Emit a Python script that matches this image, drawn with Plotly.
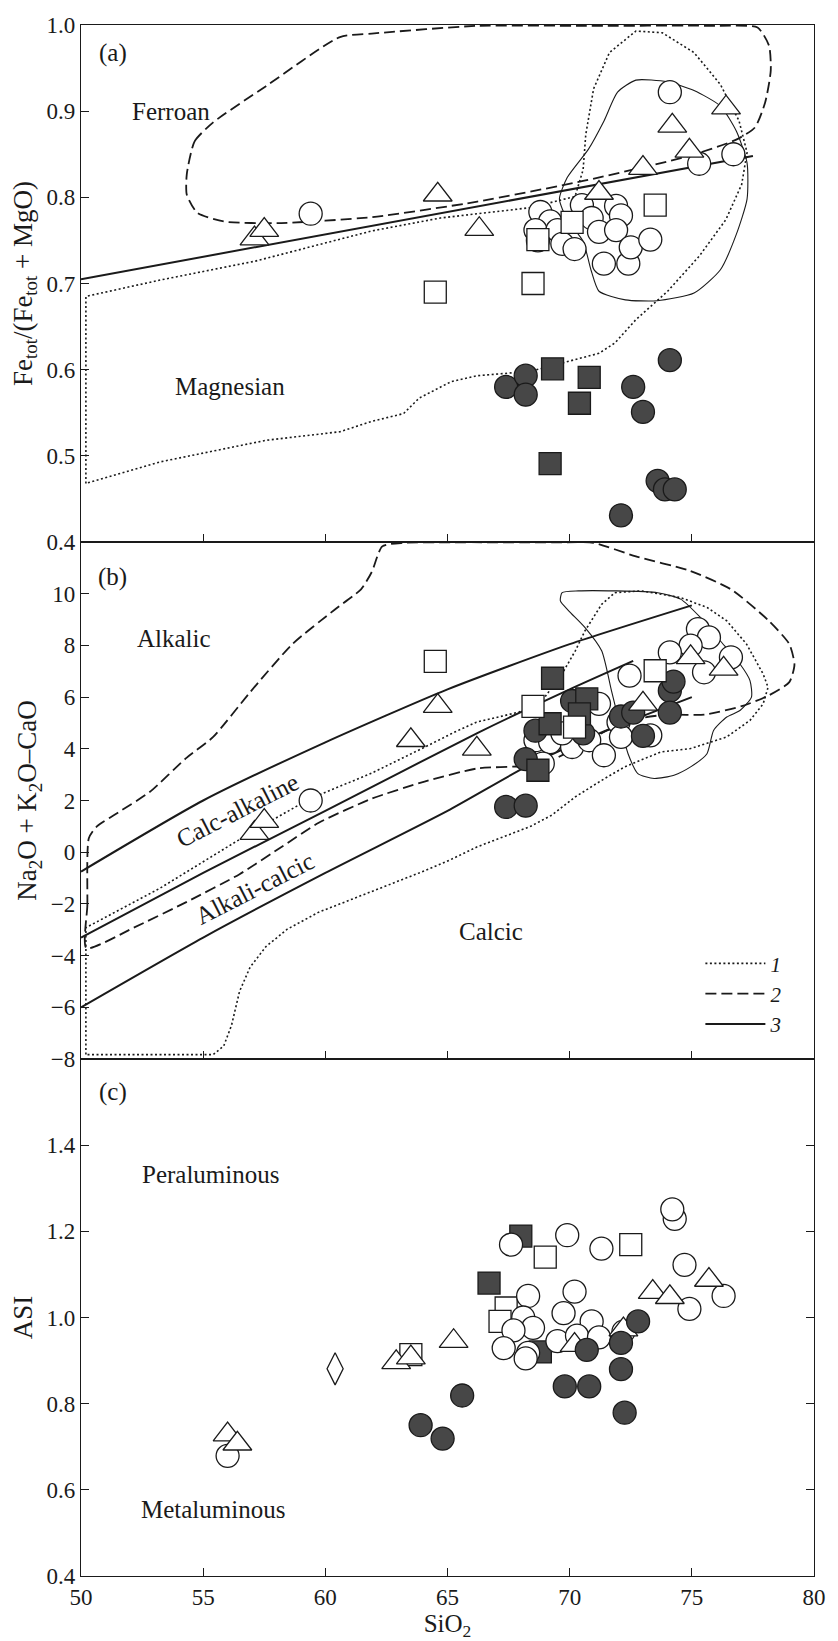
import plotly.graph_objects as go
from plotly.subplots import make_subplots

FONT = "Liberation Serif, Times New Roman, DejaVu Serif, serif"
INK = "#1a1a1a"
DARK = "#474747"

# ---------------- panel (a): Fe_tot/(Fe_tot+MgO) ----------------
a_open_circle_x = [59.4, 74.1, 75.3, 76.7, 68.8, 69.2, 68.6, 68.7, 69.5, 69.7, 70.2, 70.5, 70.9,
                   71.2, 71.9, 72.1, 71.9, 71.4, 72.4, 72.5, 73.3]
a_open_circle_y = [0.781, 0.922, 0.839, 0.850, 0.783, 0.772, 0.762, 0.750, 0.762, 0.746, 0.740, 0.791, 0.776,
                   0.760, 0.790, 0.779, 0.762, 0.723, 0.723, 0.742, 0.751]
a_open_triangle_x = [57.1, 57.5, 64.6, 66.3, 71.2, 73.0, 74.2, 74.9, 76.4]
a_open_triangle_y = [0.752, 0.762, 0.803, 0.763, 0.805, 0.834, 0.883, 0.854, 0.904]
a_open_square_x = [64.5, 68.5, 68.7, 70.1, 73.5]
a_open_square_y = [0.690, 0.700, 0.751, 0.771, 0.791]
a_filled_circle_x = [67.4, 68.2, 68.2, 72.6, 73.0, 74.1, 73.6, 73.9, 74.3, 72.1]
a_filled_circle_y = [0.580, 0.593, 0.571, 0.580, 0.551, 0.611, 0.471, 0.461, 0.461, 0.431]
a_filled_square_x = [69.3, 70.8, 70.4, 69.2]
a_filled_square_y = [0.601, 0.591, 0.561, 0.491]

a_boundary_x = [50.0, 77.5]
a_boundary_y = [0.705, 0.848]

a_dot_x = [50.2, 50.2, 53.24, 57.14, 61.9, 64.71, 68.39, 70.22, 70.55, 70.66, 70.98, 71.63, 72.71, 73.79,
           75.09, 76.17, 76.93, 77.26, 77.04, 76.39, 75.31, 74.01, 72.71, 71.85, 71.2, 69.9, 68.39, 66.22,
           65.14, 63.84, 63.2, 61.9, 60.6, 57.57, 53.24, 50.2]
a_dot_y = [0.468, 0.685, 0.704, 0.726, 0.761, 0.776, 0.788, 0.801, 0.832, 0.873, 0.926, 0.968, 0.993, 0.991,
           0.968, 0.931, 0.889, 0.852, 0.815, 0.774, 0.732, 0.691, 0.658, 0.631, 0.619, 0.609, 0.598, 0.593,
           0.586, 0.567, 0.549, 0.540, 0.528, 0.518, 0.493, 0.468]

a_dash_x = [54.33, 54.65, 55.41, 57.57, 60.6, 61.9, 66.2, 70.55, 75.96, 77.69, 78.16, 78.23, 78.0, 77.58,
            76.82, 74.88, 70.55, 66.22, 61.9, 58.0, 55.84, 54.76, 54.33, 54.33]
a_dash_y = [0.827, 0.865, 0.887, 0.929, 0.986, 0.99, 0.999, 0.999, 0.999, 0.997, 0.976, 0.947, 0.91, 0.881,
            0.867, 0.848, 0.819, 0.795, 0.777, 0.770, 0.772, 0.782, 0.803, 0.827]

a_thin_x = [72.71, 74.0, 75.09, 76.17, 76.82, 77.26, 77.26, 76.82, 76.17, 75.09, 73.58, 72.28, 71.2, 70.87,
            70.55, 69.9, 69.58, 69.9, 70.77, 71.41, 71.96, 72.71]
a_thin_y = [0.936, 0.934, 0.924, 0.906, 0.877, 0.840, 0.798, 0.757, 0.716, 0.689, 0.680, 0.681, 0.691, 0.716,
            0.749, 0.774, 0.798, 0.823, 0.856, 0.889, 0.922, 0.936]

# ---------------- panel (b): MALI ----------------
b_open_square_x = [64.5, 68.5, 73.5, 70.2]
b_open_square_y = [7.38, 5.64, 7.02, 4.84]
b_filled_square_x = [69.3, 70.7, 69.2, 70.4, 68.7]
b_filled_square_y = [6.73, 5.93, 4.97, 5.35, 3.17]
b_open_triangle_x = [64.6, 63.5, 66.2, 57.1, 57.5, 74.95, 76.3, 73.0]
b_open_triangle_y = [5.65, 4.33, 4.0, 0.74, 1.2, 7.54, 7.09, 5.74]
b_open_circle_x = [59.4, 75.25, 75.7, 74.95, 74.1, 75.5, 76.6, 72.45, 68.6, 69.2, 70.1, 70.8, 71.4, 68.9,
                   72.0, 72.1, 73.3, 71.2, 69.7]
b_open_circle_y = [2.0, 8.63, 8.31, 7.99, 7.73, 6.96, 7.54, 6.83, 4.33, 4.26, 4.07, 4.33, 3.75, 3.43,
                   5.03, 4.46, 4.52, 5.74, 4.6]
b_filled_circle_x = [67.4, 68.2, 68.2, 68.6, 70.1, 70.55, 72.1, 72.6, 73.0, 74.1, 74.25, 74.1]
b_filled_circle_y = [1.75, 1.8, 3.6, 4.7, 5.85, 4.6, 5.25, 5.4, 4.5, 6.25, 6.6, 5.4]

b_upper_x = [50.0, 55.0, 60.0, 65.0, 70.0, 75.0]
b_upper_y = [-0.75, 2.0, 4.25, 6.3, 8.05, 9.55]
b_middle_x = [50.0, 55.0, 60.0, 66.2, 70.0, 72.6]
b_middle_y = [-3.3, -0.8, 1.6, 4.6, 6.3, 7.4]
b_lower_x = [50.0, 55.0, 60.0, 65.0, 68.2, 70.0, 72.0, 75.0]
b_lower_y = [-6.0, -3.3, -0.8, 1.6, 3.3, 4.1, 4.9, 6.0]

b_dot_x = [50.2, 50.2, 53.24, 57.14, 59.37, 61.9, 64.06, 65.3, 66.18, 67.93, 68.88, 69.69, 70.23, 70.63,
           71.31, 71.85, 72.93, 74.54, 75.62, 76.43, 77.24, 77.92, 78.12, 77.92, 77.38, 76.43, 74.95, 73.73,
           72.25, 71.31, 70.23, 69.28, 68.4, 67.3, 66.2, 65.1, 64.06, 61.9, 59.73, 58.44, 57.57, 56.92,
           56.49, 56.16, 55.84, 55.41, 50.2]
b_dot_y = [-7.83, -2.92, -1.39, 0.87, 2.07, 3.06, 4.06, 4.65, 5.03, 5.42, 5.87, 6.90, 7.79, 8.57,
           9.59, 10.04, 10.11, 9.85, 9.47, 8.95, 8.05, 6.89, 6.38, 5.74, 5.10, 4.46, 4.01, 3.88,
           3.30, 2.78, 2.14, 1.44, 1.0, 0.6, 0.2, -0.3, -0.72, -1.52, -2.32, -2.98, -3.65, -4.45,
           -5.38, -6.70, -7.50, -7.83, -7.83]

b_dash_x = [50.22, 50.26, 50.32, 50.65, 51.51, 52.81, 54.33, 55.41, 56.92, 58.65, 60.38, 61.46, 61.9,
            62.33, 63.2, 65.14, 68.39, 69.79, 70.98, 72.71, 74.88, 76.6, 78.12, 78.99, 79.2, 78.99, 78.12,
            77.04, 75.52, 74.01, 73.0, 71.5, 70.0, 69.0, 68.17, 66.22, 64.06, 61.9, 59.73, 58.22, 56.49,
            54.33, 52.16, 50.22]
b_dash_y = [-3.71, -2.05, 0.54, 1.0, 1.53, 2.33, 3.66, 4.46, 6.19, 8.05, 9.38, 10.17, 10.84,
            11.83, 11.97, 11.99, 11.99, 11.99, 11.97, 11.44, 10.9, 10.17, 8.98, 8.05, 7.25, 6.58, 6.05,
            5.65, 5.32, 5.32, 5.2, 4.7, 3.9, 3.45, 3.33, 3.24, 2.73, 2.07, 1.14, 0.21, -0.85,
            -1.92, -2.92, -3.71]

b_thin_x = [69.69, 70.36, 71.85, 73.6, 74.54, 75.35, 76.16, 76.97, 77.38, 77.44, 76.97, 76.43, 75.89,
            75.62, 74.95, 74.27, 73.46, 72.79, 72.39, 71.98, 71.71, 71.31, 70.63, 69.96, 69.62, 69.69]
b_thin_y = [10.04, 10.11, 10.11, 10.04, 9.79, 9.08, 8.18, 7.28, 6.64, 6.0, 5.48, 5.23, 4.71,
            3.81, 3.30, 2.98, 2.85, 3.04, 3.81, 5.23, 6.25, 7.79, 8.69, 9.34, 9.72, 10.04]

# ---------------- panel (c): ASI ----------------
c_open_triangle_x = [56.0, 56.4, 62.9, 63.5, 65.25, 73.4, 74.1, 75.7, 70.2, 72.2]
c_open_triangle_y = [0.728, 0.707, 0.896, 0.907, 0.945, 1.059, 1.047, 1.087, 0.936, 0.972]
c_open_circle_x = [56.0, 67.6, 69.9, 71.3, 74.3, 74.2, 74.7, 76.3, 74.9, 68.3, 70.2, 69.75, 70.9, 68.1,
                   68.5, 67.7, 67.3, 68.3, 68.2, 69.5, 70.3, 71.2, 72.2]
c_open_circle_y = [0.679, 1.169, 1.191, 1.160, 1.229, 1.251, 1.122, 1.050, 1.020, 1.050, 1.060, 1.010, 0.991, 1.0,
                   0.976, 0.970, 0.929, 0.918, 0.905, 0.945, 0.958, 0.954, 0.967]
c_open_square_x = [69.0, 72.5, 67.4, 67.15, 63.5]
c_open_square_y = [1.140, 1.169, 1.022, 0.991, 0.914]
c_filled_square_x = [68.0, 66.7, 68.8]
c_filled_square_y = [1.189, 1.080, 0.920]
c_filled_circle_x = [63.9, 64.8, 65.6, 69.8, 70.8, 70.7, 72.1, 72.1, 72.25, 72.8]
c_filled_circle_y = [0.750, 0.719, 0.819, 0.840, 0.840, 0.925, 0.941, 0.880, 0.779, 0.991]
c_diamond_x = [60.4]
c_diamond_y = [0.881]
asi_boundary = 1.0

x_ticks = [50, 55, 60, 65, 70, 75, 80]
a_ticks = [0.4, 0.5, 0.6, 0.7, 0.8, 0.9, 1.0]
b_ticks = [-8, -6, -4, -2, 0, 2, 4, 6, 8, 10]
c_ticks = [0.4, 0.6, 0.8, 1.0, 1.2, 1.4]

STYLE = {
    "open_circle": dict(symbol="circle", size=23, color="white"),
    "filled_circle": dict(symbol="circle", size=23, color=DARK),
    "open_square": dict(symbol="square", size=22, color="white"),
    "filled_square": dict(symbol="square", size=22, color=DARK),
    "open_triangle": dict(symbol="triangle-up", size=25, color="white"),
    "open_diamond": dict(symbol="diamond-tall", size=23, color="white"),
}

fig = make_subplots(rows=3, cols=1, shared_xaxes=True, vertical_spacing=0)


def add_line(row, xs, ys, dash, width, name=None, legend=False, shape="linear"):
    fig.add_trace(go.Scatter(x=xs, y=ys, mode="lines", name=name, showlegend=legend,
                             line=dict(color=INK, width=width, dash=dash, shape=shape, smoothing=0.6),
                             hoverinfo="skip"), row=row, col=1)


def add_markers(row, xs, ys, kind):
    st = STYLE[kind]
    fig.add_trace(go.Scatter(x=xs, y=ys, mode="markers", showlegend=False,
                             marker=dict(symbol=st["symbol"], size=st["size"], color=st["color"],
                                         line=dict(color=INK, width=1.3))), row=row, col=1)


DOT = "2px,2.5px"
DASH = "11px,5px"

# panel a
add_line(1, a_dot_x, a_dot_y, DOT, 1.6)
add_line(1, a_dash_x, a_dash_y, DASH, 1.8, shape="spline")
add_line(1, a_thin_x, a_thin_y, "solid", 1.1, shape="spline")
add_line(1, a_boundary_x, a_boundary_y, "solid", 2.0)
add_markers(1, a_open_circle_x, a_open_circle_y, "open_circle")
add_markers(1, a_open_triangle_x, a_open_triangle_y, "open_triangle")
add_markers(1, a_open_square_x, a_open_square_y, "open_square")
add_markers(1, a_filled_circle_x, a_filled_circle_y, "filled_circle")
add_markers(1, a_filled_square_x, a_filled_square_y, "filled_square")

# panel b
add_line(2, b_dot_x, b_dot_y, DOT, 1.6, name="<i>1</i>", legend=True)
add_line(2, b_dash_x, b_dash_y, DASH, 1.8, name="<i>2</i>", legend=True, shape="spline")
add_line(2, b_thin_x, b_thin_y, "solid", 1.1, shape="spline")
add_line(2, b_upper_x, b_upper_y, "solid", 2.0, name="<i>3</i>", legend=True, shape="spline")
add_line(2, b_middle_x, b_middle_y, "solid", 2.0, shape="spline")
add_line(2, b_lower_x, b_lower_y, "solid", 2.0, shape="spline")
add_markers(2, b_open_circle_x, b_open_circle_y, "open_circle")
add_markers(2, b_filled_circle_x, b_filled_circle_y, "filled_circle")
add_markers(2, b_filled_square_x, b_filled_square_y, "filled_square")
add_markers(2, b_open_square_x, b_open_square_y, "open_square")
add_markers(2, b_open_triangle_x, b_open_triangle_y, "open_triangle")

# panel c
fig.add_hline(y=asi_boundary, line=dict(color=INK, width=1.3), row=3, col=1)
add_markers(3, c_filled_square_x, c_filled_square_y, "filled_square")
add_markers(3, c_open_square_x, c_open_square_y, "open_square")
add_markers(3, c_open_circle_x, c_open_circle_y, "open_circle")
add_markers(3, c_open_triangle_x, c_open_triangle_y, "open_triangle")
add_markers(3, c_filled_circle_x, c_filled_circle_y, "filled_circle")
add_markers(3, c_diamond_x, c_diamond_y, "open_diamond")

TXT = dict(family=FONT, size=25, color=INK)
labels = [
    (1, "(a)", 51.3, 0.967, 0), (1, "Ferroan", 53.7, 0.9, 0), (1, "Magnesian", 56.1, 0.58, 0),
    (2, "(b)", 51.3, 10.64, 0), (2, "Alkalic", 53.8, 8.25, 0), (2, "Calc-alkaline", 56.4, 1.6, -27),
    (2, "Alkali-calcic", 57.1, -1.39, -27), (2, "Calcic", 66.8, -3.05, 0),
    (3, "(c)", 51.3, 1.523, 0), (3, "Peraluminous", 55.3, 1.331, 0), (3, "Metaluminous", 55.4, 0.555, 0),
]
for row, text, x, y, ang in labels:
    sfx = "" if row == 1 else str(row)
    fig.add_annotation(x=x, y=y, xref="x" + sfx, yref="y" + sfx, text=text, showarrow=False,
                       textangle=ang, font=TXT)

axis_common = dict(showline=True, linecolor=INK, linewidth=1.2, ticks="inside", ticklen=8,
                   tickwidth=1.2, tickcolor=INK, showgrid=False, zeroline=False,
                   tickfont=dict(family=FONT, size=23, color=INK))
for r in (1, 2, 3):
    fig.update_xaxes(range=[50, 80], tickvals=x_ticks, mirror=True, row=r, col=1, **axis_common)
fig.update_xaxes(title=dict(text="SiO<sub>2</sub>", font=dict(family=FONT, size=25, color=INK), standoff=2),
                 row=3, col=1)
title_font = dict(family=FONT, size=27, color=INK)
fig.update_yaxes(range=[0.4, 1.0], tickvals=a_ticks, tickformat=".1f", mirror=True, row=1, col=1,
                 title=dict(text="Fe<sub>tot</sub>/(Fe<sub>tot</sub> + MgO)", font=title_font, standoff=6),
                 **axis_common)
fig.update_yaxes(range=[-8, 12], tickvals=b_ticks, mirror=True, row=2, col=1,
                 title=dict(text="Na<sub>2</sub>O + K<sub>2</sub>O\u2013CaO", font=title_font, standoff=6),
                 **axis_common)
fig.update_yaxes(range=[0.4, 1.6], tickvals=c_ticks, tickformat=".1f", mirror="ticks", row=3, col=1,
                 title=dict(text="ASI", font=title_font, standoff=6), **axis_common)

fig.update_layout(
    width=838, height=1641,
    margin=dict(l=81, r=16, t=25, b=59),
    paper_bgcolor="white", plot_bgcolor="white",
    font=dict(family=FONT, color=INK),
    legend=dict(x=0.845, y=0.408, xanchor="left", yanchor="top", bgcolor="rgba(0,0,0,0)",
                font=dict(family=FONT, size=21, color=INK), itemwidth=60, tracegroupgap=0),
)

fig.write_html("out.html")
